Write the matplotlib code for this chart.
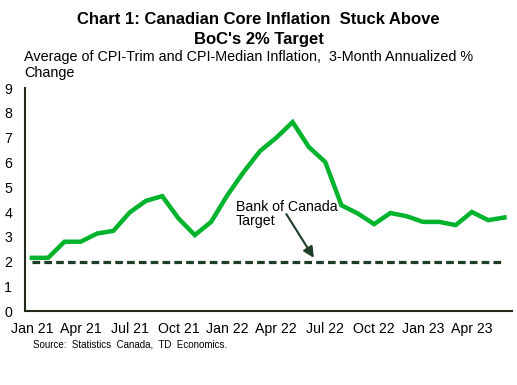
import matplotlib
matplotlib.use('Agg')
import matplotlib.pyplot as plt

plt.rcParams['font.family'] = ['Liberation Sans', 'DejaVu Sans']

# monthly, Jan 2021 to Jun 2023
months = ['Jan 21', 'Feb 21', 'Mar 21', 'Apr 21', 'May 21', 'Jun 21', 'Jul 21', 'Aug 21', 'Sep 21',
          'Oct 21', 'Nov 21', 'Dec 21', 'Jan 22', 'Feb 22', 'Mar 22', 'Apr 22', 'May 22', 'Jun 22',
          'Jul 22', 'Aug 22', 'Sep 22', 'Oct 22', 'Nov 22', 'Dec 22', 'Jan 23', 'Feb 23', 'Mar 23',
          'Apr 23', 'May 23', 'Jun 23']
core = [2.15, 2.15, 2.8, 2.8, 3.13, 3.24, 3.98, 4.45, 4.64, 3.74, 3.07, 3.6, 4.68, 5.62, 6.46,
        7.0, 7.63, 6.62, 6.02, 4.27, 3.94, 3.51, 3.96, 3.83, 3.6, 3.6, 3.47, 4.0, 3.67, 3.78]
target = [2.0] * len(months)
yticks = list(range(0, 10))

x = list(range(len(months)))

fig = plt.figure(figsize=(5.17, 3.85), dpi=100)
ax = fig.add_axes([0.048, 0.192, 0.942, 0.579])

ax.plot(x, core, color='#00b32c', lw=3.2, solid_joinstyle='miter', zorder=3)
ax.plot(x, target, color='#1d3d26', lw=2.3, dashes=(2.4, 1.3), zorder=2)

ax.annotate('Bank of Canada\nTarget', xy=(17.3, 2.15), xytext=(12.5, 3.35),
            fontsize=10.2, ha='left', va='bottom', linespacing=1.0,
            arrowprops=dict(arrowstyle='-|>', color='#1d3d26', lw=1.5, mutation_scale=16,
                            shrinkA=0, shrinkB=0, patchA=None),
            zorder=4)

ax.set_xlim(-0.43, 29.45)
ax.set_ylim(0, 9)
ax.set_yticks(yticks)
ax.set_xticks(x[::3])
ax.set_xticklabels(months[::3])
ax.tick_params(axis='both', length=0, labelsize=10.2, colors='black')
ax.tick_params(axis='x', pad=8)
ax.tick_params(axis='y', pad=9)
for s in ['top', 'right']:
    ax.spines[s].set_visible(False)
for s in ['left', 'bottom']:
    ax.spines[s].set_color('#1f2a1a')
    ax.spines[s].set_linewidth(1.5)

fig.text(0.5, 0.97, "Chart 1: Canadian Core Inflation  Stuck Above\nBoC's 2% Target",
         ha='center', va='top', fontsize=12, fontweight='bold', linespacing=1.45)
fig.text(0.046, 0.87, 'Average of CPI-Trim and CPI-Median Inflation,  3-Month Annualized %\nChange',
         ha='left', va='top', fontsize=10.4, linespacing=1.15)
fig.text(0.064, 0.104, 'Source:  Statistics  Canada,  TD  Economics.', ha='left', va='center', fontsize=7)

fig.savefig('out.png', dpi=100)
